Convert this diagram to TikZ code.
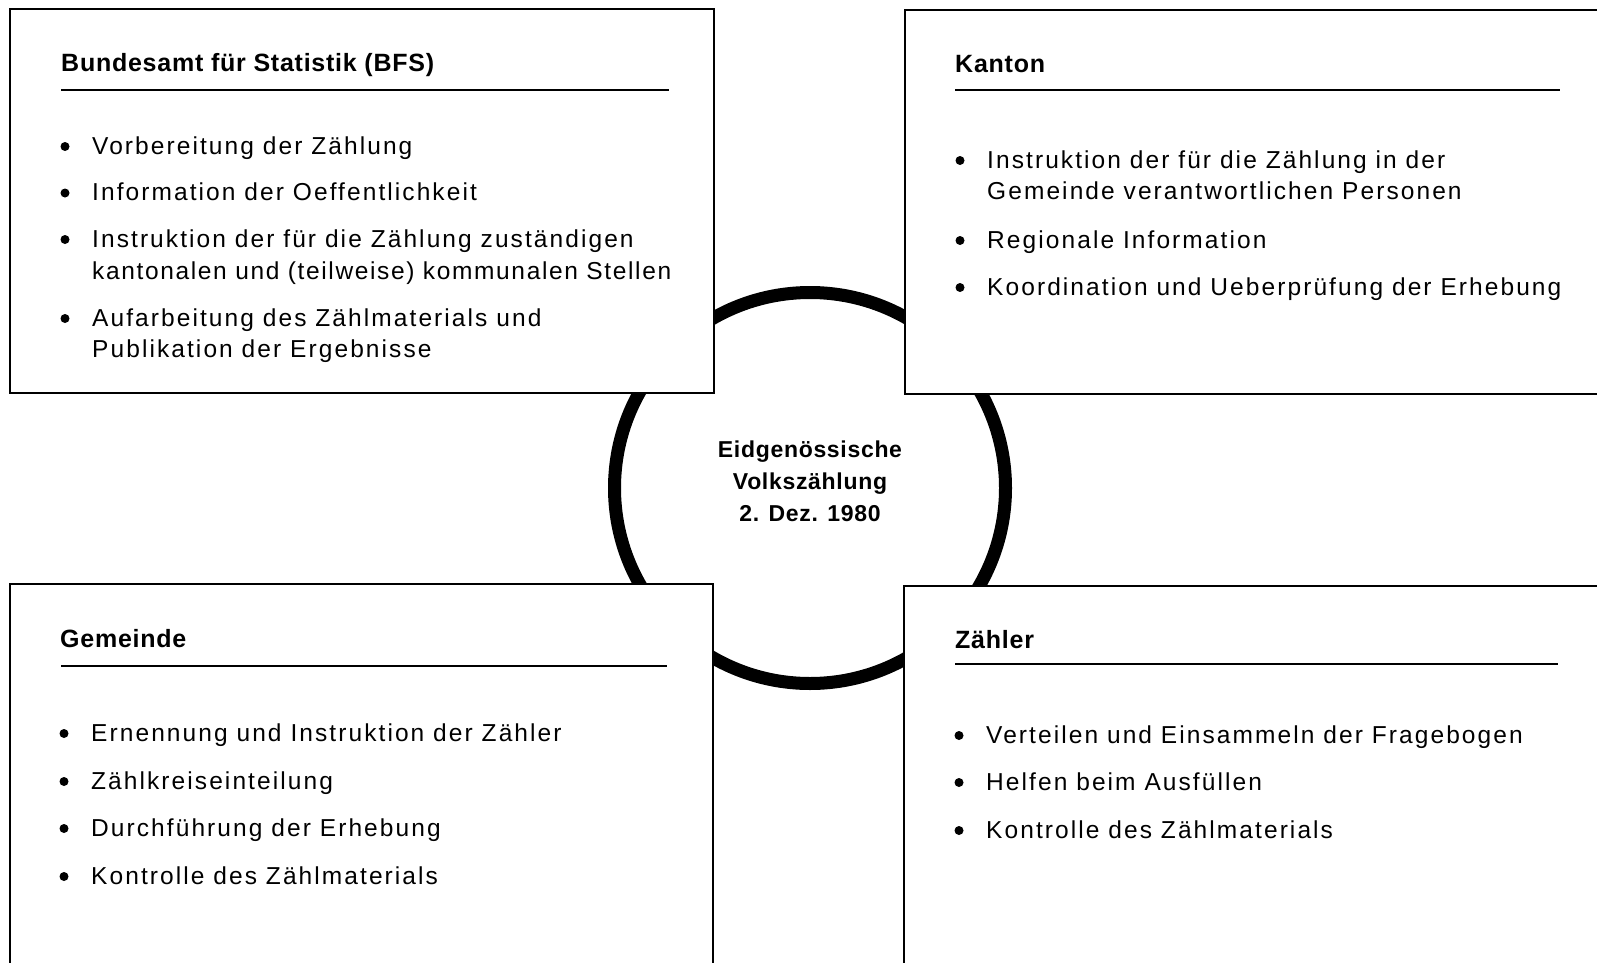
\documentclass[tikz,border=0pt]{standalone}
\usepackage{fontspec}
\setmainfont{Liberation Sans}
\newfontfamily\itemfam[LetterSpace=8.5]{Liberation Sans}
\newfontfamily\itemfamtight[LetterSpace=6.7]{Liberation Sans}
\newfontfamily\ttlfam[LetterSpace=3]{Liberation Sans}
\newfontfamily\ctrfam[LetterSpace=3]{Liberation Sans}
\newcommand\bitem[4]{%
  \node[bul] (#1b) at (#2-27,#3-7.5) {};
  \node[itm] (#1) at (#2,#3) {#4};}
\begin{document}
\begin{tikzpicture}[x=1pt,y=-1pt,
  box/.style={draw, line width=2, fill=white},
  rulel/.style={line width=1.6},
  itm/.style={anchor=base west, inner sep=0, font=\itemfam\fontsize{24.5}{31}\selectfont},
  itmtight/.style={anchor=base west, inner sep=0, font=\itemfamtight\fontsize{24.5}{31}\selectfont},
  ttl/.style={anchor=base west, inner sep=0, font=\ttlfam\bfseries\fontsize{25}{30}\selectfont},
  bul/.style={circle, fill, inner sep=0, minimum size=9},
  ring/.style={circle, draw, line width=13, minimum size=391, inner sep=0},
  ctr/.style={align=center, inner sep=0, font=\ctrfam\bfseries\fontsize{23}{32}\selectfont},
]
\clip (0,0) rectangle (1597,963);
\fill[white] (0,0) rectangle (1597,963);
% central ring
\node[ring] (ring) at (810,488) {};
% boxes
\draw[box] (10,9) rectangle (714,393);
\draw[box] (905,10) rectangle (1620,394);
\draw[box] (10,584) rectangle (713,990);
\draw[box] (904,586) rectangle (1620,990);
% centre text
\node[ctr] (centre) at (810,481) {Eidgenössische\\Volkszählung\\2. Dez. 1980};
% top left
\node[ttl] (tBFS) at (61,72) {Bundesamt für Statistik (BFS)};
\draw[rulel] (61,90) -- (669,90);
\bitem{a1}{92}{154}{Vorbereitung der Zählung}
\bitem{a2}{92}{200.5}{Information der Oeffentlichkeit}
\bitem{a3}{92}{247}{Instruktion der für die Zählung zuständigen}
\node[itmtight] (a3b2) at (92,279) {kantonalen und (teilweise) kommunalen Stellen};
\bitem{a4}{92}{326}{Aufarbeitung des Zählmaterials und}
\node[itm] (a4b2) at (92,357.5) {Publikation der Ergebnisse};
% top right
\node[ttl] (tKanton) at (955,73) {Kanton};
\draw[rulel] (955,90) -- (1560,90);
\bitem{b1}{987}{168}{Instruktion der für die Zählung in der}
\node[itm] (b1l2) at (987,199.5) {Gemeinde verantwortlichen Personen};
\bitem{b2}{987}{248}{Regionale Information}
\bitem{b3}{987}{295}{Koordination und Ueberprüfung der Erhebung}
% bottom left
\node[ttl] (tGemeinde) at (60,647) {Gemeinde};
\draw[rulel] (61,666) -- (667,666);
\bitem{c1}{91}{741}{Ernennung und Instruktion der Zähler}
\bitem{c2}{91}{789}{Zählkreiseinteilung}
\bitem{c3}{91}{836}{Durchführung der Erhebung}
\bitem{c4}{91}{884}{Kontrolle des Zählmaterials}
% bottom right
\node[ttl] (tZaehler) at (955,648) {Zähler};
\draw[rulel] (955,664) -- (1558,664);
\bitem{d1}{986}{743}{Verteilen und Einsammeln der Fragebogen}
\bitem{d2}{986}{790}{Helfen beim Ausfüllen}
\bitem{d3}{986}{838}{Kontrolle des Zählmaterials}
\end{tikzpicture}
\end{document}
